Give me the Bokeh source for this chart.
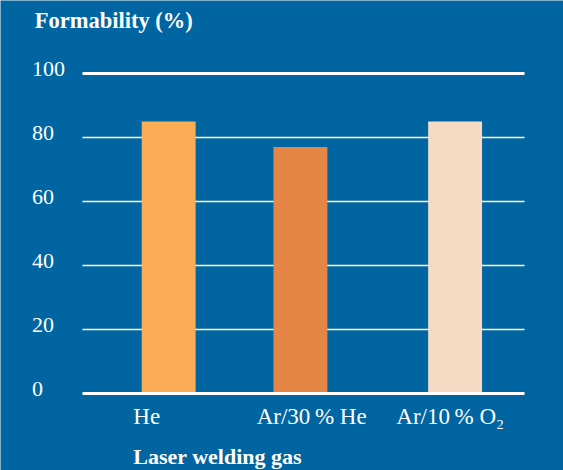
from bokeh.plotting import figure
from bokeh.models import Range1d
from bokeh.core.properties import value
from bokeh.embed import file_html
from bokeh.resources import INLINE

# Data
gases = ["He", "Ar/30\u2009% He", "Ar/10\u2009% O\u2082"]
formability = [85, 77, 85]
bar_colors = ["#FBAD56", "#E58546", "#F6DBC4"]
y_ticks = [0, 20, 40, 60, 80, 100]
y_title = "Formability (%)"
x_title = "Laser welding gas"

# Layout: x in percent of the gridline length, y in formability units
bar_x = [19.5, 49.3, 84.3]
bar_width = 12.2
cat_label_x = [11.5, 39.4, 71.0]
ylabel_x = -11.4
title_x = -10.8

BG = "#0065A0"
SERIF = value("Liberation Serif")

p = figure(
    width=563, height=470,
    x_range=Range1d(-18.552, 108.824), y_range=Range1d(-24.0625, 122.8125),
    output_backend="svg", toolbar_location=None,
    min_border=0, background_fill_color=BG, border_fill_color=BG,
    outline_line_color=None,
)
p.axis.visible = False
p.grid.visible = False

# horizontal rules: thin inner gridlines, heavier top line
inner = [t for t in y_ticks if 0 < t < max(y_ticks)]
p.segment(x0=0, x1=100, y0=inner, y1=inner, line_color="white", line_width=1.6)
p.segment(x0=0, x1=100, y0=max(y_ticks), y1=max(y_ticks),
          line_color="white", line_width=3)

# bars
p.vbar(x=bar_x, top=formability, bottom=0, width=bar_width,
       fill_color=bar_colors, line_color=None)

# baseline under the bars
p.segment(x0=0, x1=100, y0=0, y1=0, line_color="white", line_width=3)

# y tick labels, left aligned
p.text(x=[ylabel_x] * len(y_ticks), y=y_ticks, text=[str(t) for t in y_ticks],
       text_align="left", text_baseline="alphabetic", y_offset=-5,
       text_font=SERIF, text_font_size="22px", text_color="white")

# category labels below the baseline
p.text(x=cat_label_x, y=[0] * len(gases), text=gases,
       text_align="left", text_baseline="alphabetic", y_offset=23,
       text_font=SERIF, text_font_size="23px", text_color="white")

# axis titles
p.text(x=[title_x], y=[max(y_ticks)], text=[y_title],
       text_align="left", text_baseline="alphabetic", y_offset=-53,
       text_font=SERIF, text_font_size="22.5px", text_font_style="bold",
       text_color="white")
p.text(x=[cat_label_x[0]], y=[0], text=[x_title],
       text_align="left", text_baseline="alphabetic", y_offset=63,
       text_font=SERIF, text_font_size="22px", text_font_style="bold",
       text_color="white")

open("out.html", "w").write(file_html(p, INLINE))
